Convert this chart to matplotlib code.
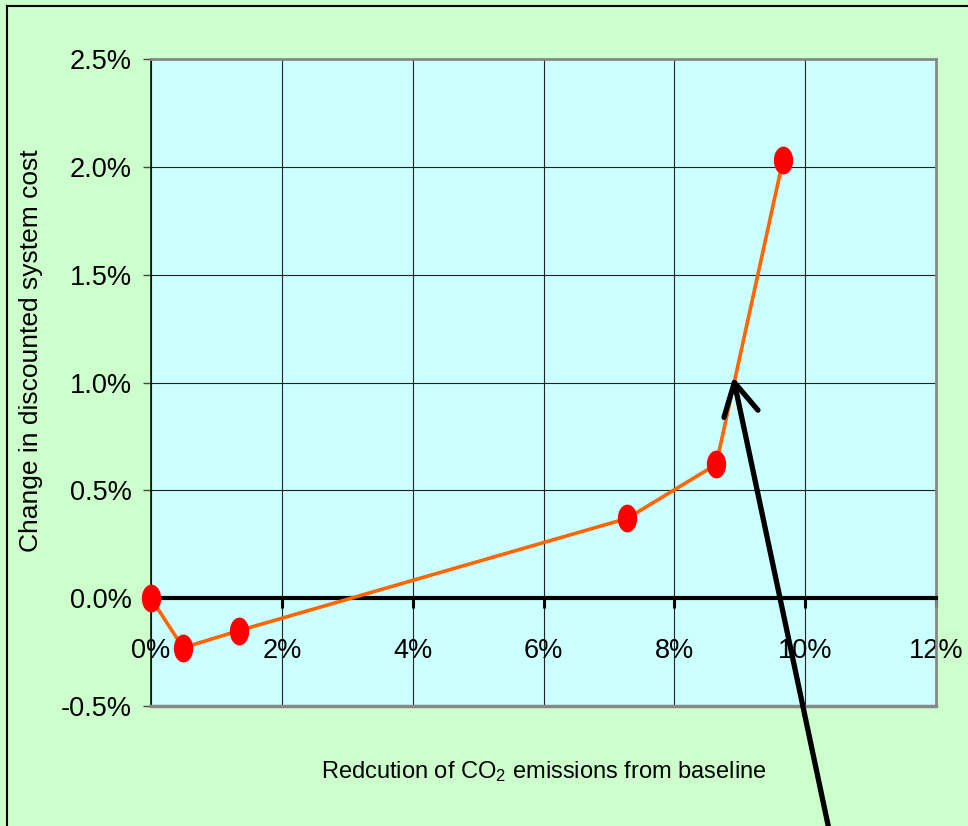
import matplotlib
matplotlib.use("Agg")
import matplotlib.pyplot as plt
from matplotlib.path import Path
from matplotlib.transforms import Affine2D
from matplotlib.lines import Line2D

# Emission reduction (%) vs change in discounted system cost (%)
reduction_pct = [0.0, 0.49, 1.35, 7.28, 8.64, 9.66]
cost_change_pct = [0.0, -0.23, -0.15, 0.37, 0.62, 2.03]

x_ticks = [0, 2, 4, 6, 8, 10, 12]
x_tick_labels = ["0%", "2%", "4%", "6%", "8%", "10%", "12%"]
y_ticks = [-0.5, 0.0, 0.5, 1.0, 1.5, 2.0, 2.5]
y_tick_labels = ["-0.5%", "0.0%", "0.5%", "1.0%", "1.5%", "2.0%", "2.5%"]

arrow_tip = (8.9, 1.025)

font = ["Liberation Sans", "DejaVu Sans"]

fig = plt.figure(figsize=(9.68, 8.26), dpi=100, facecolor="#CCFFCC")
ax = fig.add_axes([151 / 968, 120 / 826, 785 / 968, 647 / 826])
ax.set_facecolor("#CCFFFF")

# Excel-style: horizontal axis crosses at zero
ax.spines["bottom"].set_position(("data", 0))
ax.spines["bottom"].set_linewidth(3.0)
ax.spines["bottom"].set_color("black")
ax.spines["left"].set_linewidth(1.2)
ax.spines["left"].set_color("#111111")
for s in ("top", "right"):
    ax.spines[s].set_linewidth(2.0)
    ax.spines[s].set_color("#888888")

ax.set_xlim(0, 12)
ax.set_ylim(-0.5, 2.5)
ax.set_xticks(x_ticks)
ax.set_xticklabels(x_tick_labels, family=font, fontsize=19.5)
ax.set_yticks(y_ticks)
ax.set_yticklabels(y_tick_labels, family=font, fontsize=19.5)

ax.grid(True, color="#222222", linewidth=0.8)
ax.set_axisbelow(True)

# plot-area bottom border
ax.plot([0, 1], [0, 0], transform=ax.transAxes, color="#888888",
        linewidth=2.5, clip_on=False, zorder=3)

ax.tick_params(axis="x", direction="out", length=7, width=2.2, color="black",
               pad=22)
ax.tick_params(axis="y", direction="out", length=6, width=1.0, color="#444444",
               pad=8)

# tall elliptical marker
ellipse = Path.unit_circle().transformed(Affine2D().scale(0.68, 1.0))
ax.plot(reduction_pct, cost_change_pct, color="#FF6600", linewidth=2.6,
        marker=ellipse, markersize=19, markerfacecolor="#FF0000",
        markeredgecolor="#FF0000", clip_on=False, zorder=5)

ax.set_xlabel("Redcution of CO$\\mathregular{_2}$ emissions from baseline",
              family=font, fontsize=17, labelpad=0)
ax.xaxis.set_label_coords(0.5, -0.082)
ax.set_ylabel("Change in discounted system cost", family=font,
              fontsize=19)
ax.yaxis.set_label_coords(-0.138, 0.549)

ax.annotate("", xy=arrow_tip, xycoords="data",
            xytext=(830 / 968, -0.01), textcoords="figure fraction",
            arrowprops=dict(arrowstyle="->,head_length=0.46,head_width=0.25",
                            mutation_scale=50, color="black", linewidth=3.8,
                            shrinkA=0, shrinkB=0),
            annotation_clip=False, zorder=6)

# outer frame on top and left
fig.add_artist(Line2D([7 / 968, 1], [1 - 6 / 826, 1 - 6 / 826],
                      transform=fig.transFigure, color="black", linewidth=1.5))
fig.add_artist(Line2D([7 / 968, 7 / 968], [0, 1 - 6 / 826],
                      transform=fig.transFigure, color="black", linewidth=1.5))

fig.savefig("out.png", dpi=100, facecolor=fig.get_facecolor())
